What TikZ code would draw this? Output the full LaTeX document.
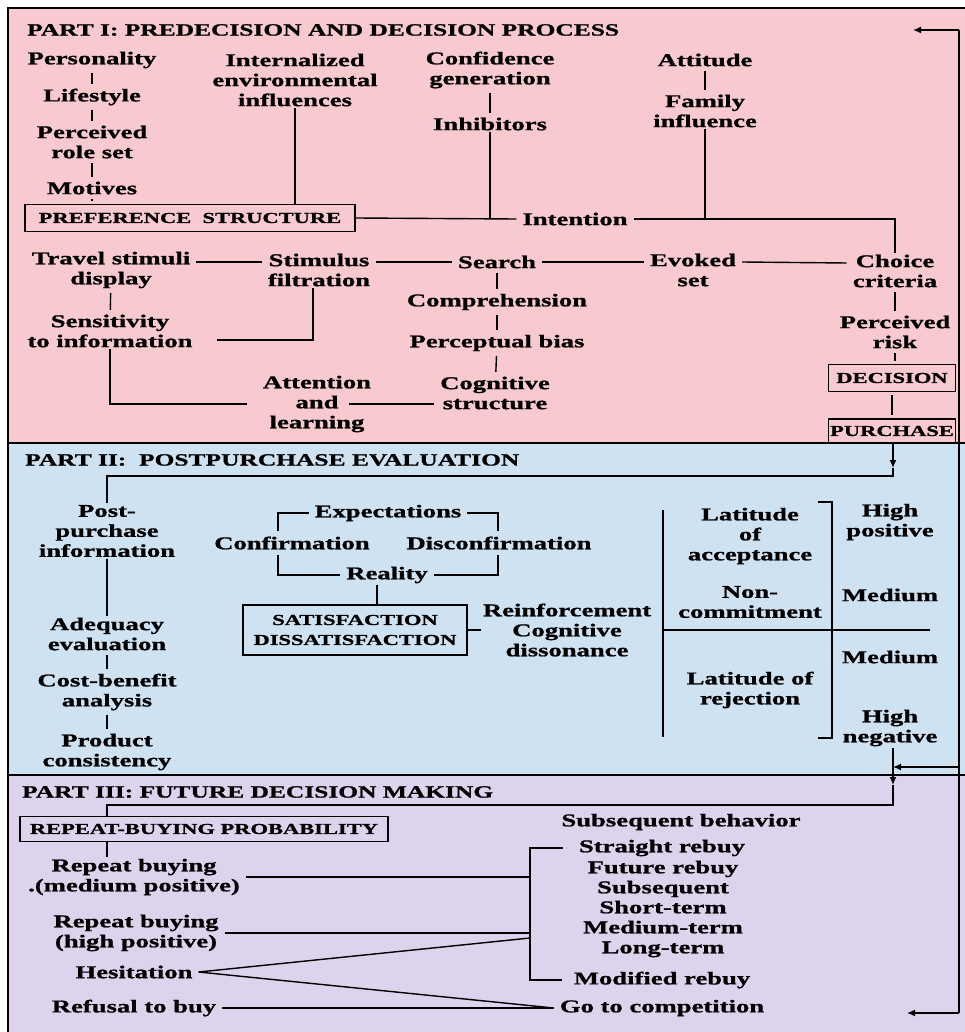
\documentclass[tikz,border=0pt]{standalone}
\usepackage{fontspec}
\newfontfamily\dfont[FakeStretch=1.48,FakeBold=1]{Liberation Serif Bold}
\usetikzlibrary{arrows.meta}
\definecolor{partone}{RGB}{248,202,208}
\definecolor{parttwo}{RGB}{206,226,242}
\definecolor{partthree}{RGB}{222,211,237}
\begin{document}
\begin{tikzpicture}[x=1pt,y=-1pt,
  lbl/.style={font={\dfont\fontsize{18}{20}\selectfont}, align=center, inner xsep=6pt, inner ysep=1.5pt},
  ttl/.style={font={\dfont\fontsize{17.2}{20}\selectfont}, anchor=west, inner sep=0pt},
  capbox/.style={draw, line width=1.4pt, font={\dfont\fontsize{15.2}{20}\selectfont}, align=center, inner sep=0pt},
  link/.style={line width=1.4pt},
  tick/.style={link, shorten <=3pt, shorten >=3pt},
  tip/.style={link, -{Latex[length=8pt,width=7pt]}}
]
\useasboundingbox (0,0) rectangle (965,1032);

% three coloured bands
\fill[partone] (8,8) rectangle (965,443);
\fill[parttwo] (8,443) rectangle (965,775);
\fill[partthree] (8,775) rectangle (965,1032);
\draw[line width=2pt] (8,1032) -- (8,8) -- (965,8);
\draw[line width=2.4pt] (8,443) -- (965,443);
\draw[line width=2.4pt] (8,775) -- (965,775);

% headings
\node[ttl] (t1) at (27,30) {PART I: PREDECISION AND DECISION PROCESS};
\node[ttl] (t2) at (25,460) {PART II:\ \ POSTPURCHASE EVALUATION};
\node[ttl] (t3) at (22,792) {PART III: FUTURE DECISION MAKING};

% ---------- Part I ----------
\node[lbl] (pers) at (92,60) {Personality};
\node[lbl] (life) at (92,97) {Lifestyle};
\node[lbl] (role) at (92,142) {Perceived\\role set};
\node[lbl] (motiv) at (92,188) {Motives};
\node[capbox, minimum width=330pt, minimum height=27pt] (pref) at (190,218) {PREFERENCE\ \ STRUCTURE};
\node[lbl] (intern) at (295,80) {Internalized\\environmental\\influences};
\node[lbl] (conf) at (490,70) {Confidence\\generation};
\node[lbl] (inhib) at (490,124) {Inhibitors};
\node[lbl] (att) at (705,60) {Attitude};
\node[lbl] (fam) at (705,111) {Family\\influence};
\node[lbl] (intent) at (575,219) {Intention};
\node[lbl] (choice) at (895,271) {Choice\\criteria};
\node[lbl] (risk) at (895,332) {Perceived\\risk};
\node[capbox, minimum width=127pt, minimum height=27pt] (dec) at (892,378) {DECISION};
\node[capbox, minimum width=127pt, minimum height=24pt] (pur) at (892,431) {PURCHASE};
\node[lbl] (travel) at (111,270) {Travel stimuli\\display};
\node[lbl] (stim) at (319,270) {Stimulus\\filtration};
\node[lbl] (search) at (497,262) {Search};
\node[lbl] (evoked) at (693,270) {Evoked\\set};
\node[lbl] (compr) at (497,302) {Comprehension};
\node[lbl] (percb) at (497,343) {Perceptual bias};
\node[lbl] (cog) at (495,393) {Cognitive\\structure};
\node[lbl] (attn) at (317,404) {Attention\\and\\learning};
\node[lbl] (sens) at (110,331) {Sensitivity\\to information};

\draw[tick] (pers) -- (life);
\draw[tick] (life) -- (role);
\draw[tick] (role) -- (motiv);
\draw[tick] (motiv.south) -- (motiv.south |- pref.north);
\draw[link] (intern.south) -- (intern.south |- pref.north);
\draw[link] (pref.east) -- (intent.west);
\draw[tick] (conf) -- (inhib);
\draw[link] (inhib.south) -- (inhib.south |- intent.west);
\draw[tick] (att) -- (fam);
\draw[link] (fam.south) -- (fam.south |- intent.east);
\draw[link] (intent.east) -| (choice.north);
\draw[tick] (choice) -- (risk);
\draw[tick] (risk.south) -- (risk.south |- dec.north);
\draw[tick] (dec) -- (pur);
\draw[link] ([yshift=8pt]travel.east) -- ([yshift=8pt]stim.west);
\draw[link] ([yshift=8pt]stim.east) -- (search.west);
\draw[link] (search.east) -- ([yshift=8pt]evoked.west);
\draw[link] ([yshift=8pt]evoked.east) -- ([yshift=8pt]choice.west);
\draw[tick] (search) -- (compr);
\draw[tick] (compr) -- (percb);
\draw[tick] (percb) -- (cog);
\draw[tick] (travel) -- (sens);
\draw[link] ([xshift=-6pt]stim.south) |- ([xshift=18pt,yshift=-9pt]sens.east);
\draw[link] (sens.south) |- ([xshift=-10pt]attn.west);
\draw[link] ([xshift=-28pt]attn.east) -- (attn.east -| cog.west);

% ---------- Part II ----------
\node[lbl] (post) at (107,531) {Post-\\purchase\\information};
\node[lbl] (adeq) at (107,634) {Adequacy\\evaluation};
\node[lbl] (cost) at (107,692) {Cost-benefit\\analysis};
\node[lbl] (prod) at (107,752) {Product\\consistency};
\node[lbl] (expect) at (388,513) {Expectations};
\node[lbl] (confirm) at (292,543) {Confirmation};
\node[lbl] (disconf) at (499,543) {Disconfirmation};
\node[lbl] (reality) at (387,575) {Reality};
\node[capbox, minimum width=224pt, minimum height=50pt] (satis) at (355,630) {SATISFACTION\\DISSATISFACTION};
\node[lbl, inner xsep=2pt] (reinf) at (567,630) {Reinforcement\\Cognitive\\dissonance};
\node[lbl] (latacc) at (750,536) {Latitude\\of\\acceptance};
\node[lbl] (noncom) at (750,602) {Non-\\commitment};
\node[lbl] (latrej) at (750,690) {Latitude of\\rejection};
\node[lbl] (hipos) at (890,522) {High\\positive};
\node[lbl] (med1) at (890,595) {Medium};
\node[lbl] (med2) at (890,657) {Medium};
\node[lbl] (hineg) at (890,728) {High\\negative};

\coordinate (pa) at (893,468);
\coordinate (pb) at (893,476);
\draw[tip] (pa |- pur.south) -- (pa);
\draw[link] (pa) -- (pb) -| (post.north);
\draw[link] (post) -- (adeq);
\draw[tick] (adeq) -- (cost);
\draw[tick] (cost) -- (prod);
\draw[link] (expect.west) -| ([xshift=-14pt,yshift=4pt]confirm.north);
\draw[link] (expect.east) -| ([xshift=-1pt,yshift=4pt]disconf.north);
\draw[link] (reality.west) -| ([xshift=-14pt,yshift=-4pt]confirm.south);
\draw[link] (reality.east) -| ([xshift=-1pt,yshift=-4pt]disconf.south);
\coordinate (rs) at ([xshift=-10pt]reality.south);
\draw[link] (rs) -- (rs |- satis.north);
\draw[link] (satis.east) -- (satis.east -| reinf.west);
% acceptance / rejection scale
\draw[link] (663,510) -- (663,737);
\draw[link] (663,630) -- (930,630);
\draw[link] (818,502) -- (832,502) -- (832,738) -- (818,738);

% ---------- Part III ----------
\node[capbox, minimum width=368pt, minimum height=25pt] (rbp) at (204,829) {REPEAT-BUYING PROBABILITY};
\node[lbl] (rbmed) at (134,877) {Repeat buying\\.(medium positive)};
\node[lbl] (rbhigh) at (136,933) {Repeat buying\\(high positive)};
\node[lbl] (hes) at (134,972) {Hesitation};
\node[lbl] (refuse) at (134,1008) {Refusal to buy};
\node[lbl] (subs) at (681,822) {Subsequent behavior};
\node[lbl] (straight) at (662,848) {Straight rebuy};
\node[lbl] (terms) at (663,909) {Future rebuy\\Subsequent\\Short-term\\Medium-term\\Long-term};
\node[lbl] (modif) at (662,980) {Modified rebuy};
\node[lbl] (goto) at (662,1008) {Go to competition};

\coordinate (na) at (893,785);
\coordinate (nb) at (893,805);
\draw[tip] (na |- hineg.south) -- (na);
\draw[link] (na) -- (nb) -| (post.south |- rbp.north);
\draw[link] (post.south |- rbp.south) -- (post.south |- rbmed.north);
\coordinate (bb) at (530,980);
\draw[link] ([xshift=-10pt]straight.west) -| (bb) -- ([xshift=-6pt]modif.west);
\draw[link] (rbmed.east) -- (rbmed.east -| bb);
\draw[link] (rbhigh.east) -- (rbhigh.east -| bb);
\coordinate (hx) at (530,938);
\draw[link] (hes.east) -- (hx);
\draw[link] (hes.east) -- (goto.west);
\draw[link] (refuse.east) -- (goto.west);

% feedback line on the right
\coordinate (fa) at (959,30);
\coordinate (fb) at (959,767);
\coordinate (fc) at (959,1013);
\coordinate (fat) at (913,30);
\coordinate (fct) at (907,1013);
\draw[link] (fa) -- (fc);
\draw[tip] (fa) -- (fat);
\draw[tip] (fb) -- (fb -| na);
\draw[tip] (fc) -- (fct);
\end{tikzpicture}
\end{document}
